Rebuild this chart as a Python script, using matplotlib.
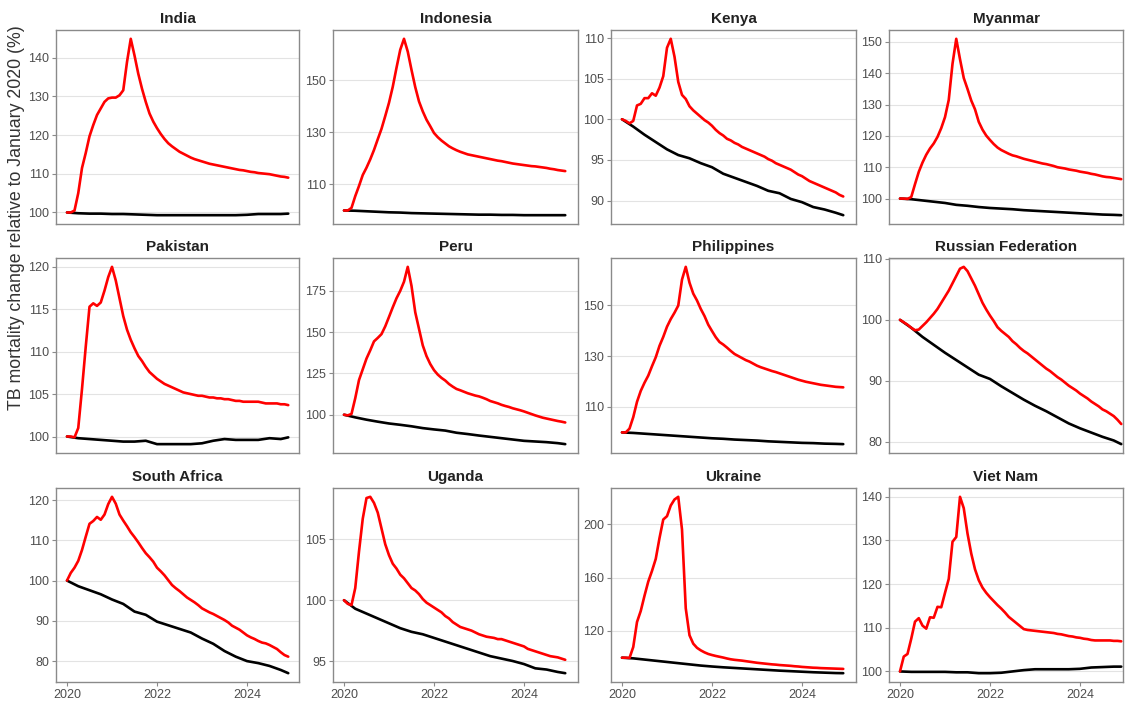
import numpy as np
import matplotlib
matplotlib.use("Agg")
import matplotlib.pyplot as plt

plt.rcParams["font.family"] = ["Liberation Sans", "DejaVu Sans"]

# monthly time axis Jan 2020 .. Dec 2024, baseline read every quarter
MONTHS = list(range(60))
BASE_MONTHS = [0, 3, 6, 9, 12, 15, 18, 21, 24, 27, 30, 33, 36, 39, 42, 45, 48, 51, 54, 57, 59]

COUNTRIES = ["India", "Indonesia", "Kenya", "Myanmar",
             "Pakistan", "Peru", "Philippines", "Russian Federation",
             "South Africa", "Uganda", "Ukraine", "Viet Nam"]

india_red = [100, 100, 100.5, 105, 111.5, 115.4, 119.7, 122.6, 125.2, 126.9, 128.6, 129.5, 129.7, 129.7, 130.3,
             131.6, 138.9, 144.9, 140.6, 135.9, 132.0, 128.6, 125.6, 123.5, 121.8, 120.3, 119.0, 117.9, 117.1,
             116.4, 115.7, 115.2, 114.7, 114.2, 113.8, 113.5, 113.2, 112.9, 112.6, 112.4, 112.2, 112.0, 111.8,
             111.6, 111.4, 111.2, 111.0, 110.9, 110.7, 110.5, 110.4, 110.2, 110.1, 110.0, 109.9, 109.7, 109.5,
             109.3, 109.2, 109.0]
india_base = [100, 99.8, 99.7, 99.7, 99.6, 99.6, 99.5, 99.4, 99.3, 99.3, 99.3, 99.3, 99.3, 99.3, 99.3, 99.3,
              99.4, 99.6, 99.6, 99.6, 99.7]

indonesia_red = [100, 100, 101, 105.5, 109.4, 113.6, 116.4, 119.6, 123.2, 127.3, 131.3, 136.2, 141.3, 147.4,
                 154.7, 161.6, 165.8, 160.9, 153.9, 147.3, 141.8, 138.0, 134.8, 132.3, 129.7, 128.1, 126.8,
                 125.7, 124.6, 123.8, 123.1, 122.5, 122.0, 121.5, 121.2, 120.9, 120.6, 120.3, 120.0, 119.7,
                 119.4, 119.1, 118.9, 118.6, 118.3, 118.0, 117.8, 117.6, 117.4, 117.2, 117.0, 116.9, 116.7,
                 116.5, 116.3, 116.0, 115.8, 115.5, 115.3, 115.1]
indonesia_base = [100, 99.9, 99.7, 99.5, 99.3, 99.2, 99.0, 98.9, 98.8, 98.7, 98.6, 98.5, 98.4, 98.4, 98.3,
                  98.3, 98.2, 98.2, 98.2, 98.2, 98.2]

kenya_red = [100, 99.8, 99.5, 99.8, 101.7, 101.9, 102.6, 102.6, 103.2, 102.9, 103.9, 105.3, 108.8, 109.9,
             107.7, 104.6, 103.0, 102.5, 101.6, 101.1, 100.7, 100.3, 99.9, 99.6, 99.2, 98.7, 98.3, 98.0, 97.6,
             97.4, 97.1, 96.9, 96.6, 96.4, 96.2, 96.0, 95.8, 95.6, 95.4, 95.1, 94.9, 94.6, 94.4, 94.2, 94.0,
             93.8, 93.5, 93.2, 93.0, 92.7, 92.4, 92.2, 92.0, 91.8, 91.6, 91.4, 91.2, 91.0, 90.7, 90.5]
kenya_base = [100, 99.1, 98.1, 97.2, 96.3, 95.6, 95.2, 94.6, 94.1, 93.3, 92.8, 92.3, 91.8, 91.2, 90.9, 90.2,
              89.8, 89.2, 88.9, 88.5, 88.2]

myanmar_red = [100, 100, 99.9, 100.5, 104.6, 108.5, 111.5, 114.0, 116.0, 117.6, 119.7, 122.5, 126.0, 131.5,
               143.0, 151.0, 144.5, 138.5, 135.0, 131.3, 128.5, 124.5, 122.0, 120.1, 118.7, 117.4, 116.3,
               115.5, 114.9, 114.3, 113.8, 113.5, 113.1, 112.7, 112.4, 112.1, 111.8, 111.5, 111.2, 111.0,
               110.7, 110.4, 110.0, 109.8, 109.6, 109.3, 109.1, 108.9, 108.6, 108.4, 108.2, 107.9, 107.7,
               107.4, 107.1, 106.9, 106.8, 106.6, 106.4, 106.2]
myanmar_base = [100, 99.8, 99.4, 99.0, 98.6, 98.0, 97.7, 97.3, 97.0, 96.8, 96.6, 96.3, 96.1, 95.9, 95.7,
                95.5, 95.3, 95.1, 94.9, 94.8, 94.7]

pakistan_red = [100, 100, 99.9, 101, 105.6, 110.6, 115.3, 115.7, 115.4, 115.8, 117.2, 118.8, 120.0, 118.4,
                116.3, 114.2, 112.6, 111.4, 110.4, 109.5, 108.9, 108.2, 107.6, 107.2, 106.8, 106.5, 106.2,
                106.0, 105.8, 105.6, 105.4, 105.2, 105.1, 105.0, 104.9, 104.8, 104.8, 104.7, 104.6, 104.6,
                104.5, 104.5, 104.4, 104.4, 104.3, 104.2, 104.2, 104.1, 104.1, 104.1, 104.1, 104.1, 104.0,
                103.9, 103.9, 103.9, 103.9, 103.8, 103.8, 103.7]
pakistan_base = [100, 99.8, 99.7, 99.6, 99.5, 99.4, 99.4, 99.5, 99.1, 99.1, 99.1, 99.1, 99.2, 99.5, 99.7,
                 99.6, 99.6, 99.6, 99.8, 99.7, 99.9]

peru_red = [100, 99.6, 100.5, 110, 121, 127.5, 134, 139, 144.4, 146.5, 148.8, 153.5, 159.2, 165, 170.5, 175,
            180.5, 189.5, 178, 162, 152, 142, 135.5, 130.7, 127, 124.3, 122.3, 120.7, 118.6, 117.0, 115.6,
            114.8, 113.9, 113.0, 112.3, 111.6, 111.1, 110.3, 109.4, 108.3, 107.6, 106.9, 106.0, 105.3, 104.7,
            103.9, 103.3, 102.7, 102.0, 101.2, 100.4, 99.6, 98.9, 98.2, 97.7, 97.2, 96.7, 96.2, 95.8, 95.3]
peru_base = [100, 98.4, 97.0, 95.8, 94.7, 93.9, 93.0, 91.9, 91.1, 90.4, 89.1, 88.3, 87.4, 86.6, 85.8, 85.0,
             84.2, 83.8, 83.4, 82.8, 82.2]

philippines_red = [100, 100, 101.5, 106, 112, 116.3, 119.5, 122.3, 126, 129.5, 134, 137.5, 141.5, 144.5, 147,
                   149.8, 160, 165, 158.8, 154.5, 151.8, 148.5, 145.7, 142.3, 139.8, 137.4, 135.5, 134.5,
                   133.3, 132, 130.8, 130, 129.2, 128.4, 127.8, 127.0, 126.2, 125.6, 125.1, 124.6, 124.1,
                   123.7, 123.2, 122.7, 122.2, 121.7, 121.2, 120.7, 120.3, 119.9, 119.6, 119.3, 119.0, 118.7,
                   118.5, 118.3, 118.1, 117.9, 117.8, 117.7]
philippines_base = [100, 99.8, 99.5, 99.2, 98.9, 98.6, 98.3, 98.0, 97.7, 97.5, 97.2, 97.0, 96.8, 96.5, 96.3,
                    96.1, 95.9, 95.8, 95.6, 95.5, 95.4]

russia_red = [100, 99.6, 99.2, 98.7, 98.3, 98.4, 99.0, 99.6, 100.3, 101.0, 101.8, 102.8, 103.8, 104.8, 106.0,
              107.2, 108.4, 108.7, 108.0, 106.8, 105.6, 104.2, 102.8, 101.7, 100.7, 99.8, 98.8, 98.2, 97.7,
              97.2, 96.5, 96.0, 95.4, 94.9, 94.5, 94.0, 93.5, 93.0, 92.5, 92.0, 91.6, 91.1, 90.6, 90.2, 89.7,
              89.2, 88.8, 88.4, 87.9, 87.5, 87.1, 86.6, 86.2, 85.8, 85.3, 85.0, 84.6, 84.2, 83.6, 82.9]
russia_base = [100, 98.7, 97.2, 95.9, 94.6, 93.4, 92.2, 91.0, 90.3, 89.1, 88.0, 86.9, 85.9, 85.0, 84.0, 83.0,
               82.2, 81.5, 80.8, 80.2, 79.6]

south_africa_red = [100, 101.9, 103.2, 104.9, 107.6, 110.9, 114.1, 114.8, 115.8, 115.1, 116.4, 119.0, 120.8,
                    119.1, 116.4, 114.9, 113.5, 112.0, 110.8, 109.5, 108.1, 106.8, 105.8, 104.7, 103.2,
                    102.3, 101.3, 100.1, 98.9, 98.1, 97.4, 96.6, 95.8, 95.2, 94.6, 93.9, 93.1, 92.6, 92.1,
                    91.7, 91.2, 90.7, 90.2, 89.6, 88.8, 88.3, 87.8, 87.1, 86.4, 85.9, 85.5, 85.0, 84.6, 84.4,
                    84.0, 83.5, 83.0, 82.2, 81.5, 81.1]
south_africa_base = [100, 98.6, 97.6, 96.6, 95.3, 94.2, 92.3, 91.5, 89.8, 88.9, 88.0, 87.1, 85.6, 84.3, 82.5,
                     81.1, 80.0, 79.5, 78.8, 77.8, 77.0]

uganda_red = [100, 99.7, 99.6, 101.0, 104.0, 106.7, 108.4, 108.5, 108.0, 107.2, 105.9, 104.6, 103.7, 103.0,
              102.6, 102.1, 101.8, 101.4, 101.0, 100.8, 100.5, 100.1, 99.8, 99.6, 99.4, 99.2, 99.0, 98.7, 98.5,
              98.2, 98.0, 97.8, 97.7, 97.6, 97.5, 97.35, 97.2, 97.1, 97.0, 96.95, 96.9, 96.8, 96.8, 96.7, 96.6,
              96.5, 96.4, 96.3, 96.2, 96.0, 95.9, 95.8, 95.7, 95.6, 95.5, 95.4, 95.35, 95.3, 95.2, 95.1]
uganda_base = [100, 99.3, 98.9, 98.5, 98.1, 97.7, 97.4, 97.2, 96.9, 96.6, 96.3, 96.0, 95.7, 95.4, 95.2, 95.0,
               94.75, 94.4, 94.3, 94.1, 94.0]

ukraine_red = [100, 100, 99.8, 108, 126.7, 135, 146.4, 157, 165, 174, 189.6, 203.5, 206, 214, 218.5, 220.5,
               196, 137, 116.8, 110.5, 107.4, 105.5, 104.0, 102.8, 102.0, 101.3, 100.7, 100.1, 99.4, 98.8,
               98.4, 98.1, 97.8, 97.4, 97.0, 96.6, 96.2, 95.9, 95.6, 95.3, 95.0, 94.8, 94.5, 94.3, 94.1, 93.9,
               93.6, 93.4, 93.1, 92.9, 92.7, 92.5, 92.4, 92.2, 92.1, 92.0, 91.9, 91.8, 91.7, 91.6]
ukraine_base = [100, 99.5, 98.6, 97.7, 96.8, 95.9, 95.0, 94.1, 93.4, 92.8, 92.3, 91.8, 91.3, 90.8, 90.3, 89.9,
                89.5, 89.1, 88.8, 88.5, 88.4]

vietnam_red = [100, 103.4, 104.0, 107.5, 111.4, 112.2, 110.5, 109.8, 112.4, 112.3, 114.8, 114.7, 118.0, 121.2,
               129.7, 130.8, 140.0, 137.4, 131.6, 127.0, 123.4, 120.9, 119.2, 118.0, 117.0, 116.1, 115.2,
               114.4, 113.5, 112.5, 111.8, 111.1, 110.4, 109.7, 109.5, 109.4, 109.3, 109.2, 109.1, 109.0,
               108.9, 108.8, 108.6, 108.5, 108.3, 108.1, 108.0, 107.8, 107.7, 107.5, 107.4, 107.2, 107.1,
               107.1, 107.1, 107.1, 107.1, 107.0, 107.0, 106.9]
vietnam_base = [100, 99.9, 99.9, 99.9, 99.9, 99.8, 99.8, 99.6, 99.6, 99.7, 100.0, 100.3, 100.5, 100.5, 100.5,
                100.5, 100.6, 100.9, 101.0, 101.1, 101.1]

RED_SERIES = [india_red, indonesia_red, kenya_red, myanmar_red, pakistan_red, peru_red, philippines_red,
              russia_red, south_africa_red, uganda_red, ukraine_red, vietnam_red]
BASE_SERIES = [india_base, indonesia_base, kenya_base, myanmar_base, pakistan_base, peru_base,
               philippines_base, russia_base, south_africa_base, uganda_base, ukraine_base, vietnam_base]

Y_TICKS = [[100, 110, 120, 130, 140], [110, 130, 150], [90, 95, 100, 105, 110],
           [100, 110, 120, 130, 140, 150], [100, 105, 110, 115, 120], [100, 125, 150, 175],
           [110, 130, 150], [80, 90, 100, 110], [80, 90, 100, 110, 120], [95, 100, 105],
           [120, 160, 200], [100, 110, 120, 130, 140]]
X_TICKS = [2020, 2022, 2024]

W, H = 1125, 705
fig = plt.figure(figsize=(W / 100, H / 100), dpi=100)

col_left = [56, 333, 611, 889]
col_width = [243, 245, 245, 234]
row_top = [30, 258, 488]
row_height = [194, 195, 194]
px_per_year = 45.0

x_red = [2020 + m / 12 for m in MONTHS]
x_base = [2020 + m / 12 for m in BASE_MONTHS]

for i, name in enumerate(COUNTRIES):
    r, c = divmod(i, 4)
    ax = fig.add_axes([col_left[c] / W, 1 - (row_top[r] + row_height[r]) / H,
                       col_width[c] / W, row_height[r] / H])
    ax.plot(x_base, BASE_SERIES[i], color="black", lw=1.9, solid_capstyle="round", zorder=3)
    ax.plot(x_red, RED_SERIES[i], color="#ff0000", lw=1.9, solid_capstyle="round", zorder=4)

    x0 = 2020 - 11 / px_per_year
    ax.set_xlim(x0, x0 + col_width[c] / px_per_year)
    ax.margins(y=0.05)
    ax.set_yticks(Y_TICKS[i])
    ax.grid(axis="y", color="#e3e3e3", lw=0.8)
    ax.set_axisbelow(True)
    for s in ax.spines.values():
        s.set_color("#8a8a8a")
        s.set_linewidth(1.0)
    ax.tick_params(axis="both", colors="#8a8a8a", labelcolor="#4d4d4d", labelsize=9, length=3, width=0.8,
                   pad=2)
    ax.set_xticks(X_TICKS)
    if r < 2:
        ax.tick_params(axis="x", length=0, labelbottom=False)
    ax.set_title(name, fontsize=11, fontweight="bold", color="#222222", pad=5)

fig.text(17 / W, 1 - 218 / H, "TB mortality change relative to January 2020 (%)", rotation=90,
         ha="center", va="center", fontsize=12.8, color="#333333")

fig.savefig("out.png", dpi=100)
